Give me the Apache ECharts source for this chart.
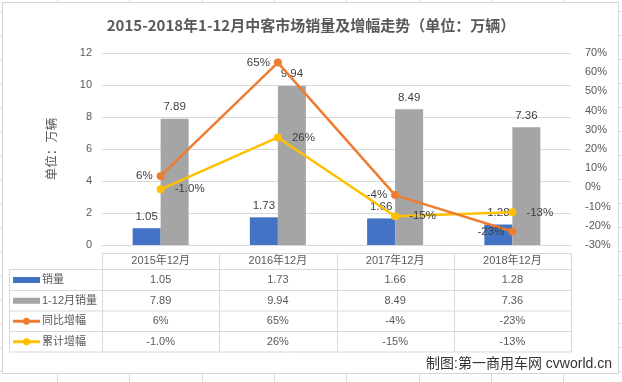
<!DOCTYPE html>
<html><head><meta charset="utf-8">
<script src="https://cdn.jsdelivr.net/npm/echarts@6/dist/echarts.min.js"></script>
<style>
html,body{margin:0;padding:0;background:#fff;overflow:hidden;}
#stage{position:relative;width:622px;height:382px;}
#chart{position:absolute;left:0;top:0;width:622px;height:382px;}
.cl{position:absolute;background:#dcdcdc;}
</style></head>
<body><div id="stage"><div id="chart"></div></div>
<script>
// ---- data ----
const categories = ['2015年12月','2016年12月','2017年12月','2018年12月'];
const salesDec = [1.05, 1.73, 1.66, 1.28];
const salesYTD = [7.89, 9.94, 8.49, 7.36];
const yoyGrowth = [6, 65, -4, -23];
const ytdGrowth = [-1.0, 26, -15, -13];
const yoyLabels = ['6%','65%','-4%','-23%'];
const ytdLabels = ['-1.0%','26%','-15%','-13%'];
const seriesNames = ['销量','1-12月销量','同比增幅','累计增幅'];
const leftTicks = {min:0, max:12, interval:2};
const rightTicks = {min:-30, max:70, interval:10};

// ---- background (spreadsheet cells + chart box) ----
const stage = document.getElementById('stage');
function addDiv(css){const d=document.createElement('div');d.className='cl';Object.assign(d.style,css);stage.insertBefore(d, stage.firstChild);}
for(let k=0;k<9;k++){addDiv({left:(57+72.3*k).toFixed(0)+'px',top:'0px',width:'1px',height:'382px'});}
for(let k=0;k<16;k++){addDiv({left:'0px',top:(11+24*k)+'px',width:'622px',height:'1px'});}
const box=document.createElement('div');
Object.assign(box.style,{position:'absolute',left:'2px',top:'2px',width:'615px',height:'370px',background:'#fff',border:'1px solid #d4d4d4'});
stage.insertBefore(box, document.getElementById('chart'));

const FONT = '"Liberation Sans","Noto Sans CJK SC",sans-serif';
const gridLeft=102, gridRight=51, gridTop=53, gridBottom=137;
const gridW = 622-gridLeft-gridRight;
const colW = gridW/categories.length;
const rowLines=[269.5,290.5,311,331.5,352];
const lineColor='#d9d9d9';
const colors=['#4472C4','#A5A5A5','#ED7D31','#FFC000'];

const g=[];
// table lines
g.push({type:'line',shape:{x1:gridLeft,y1:253.5,x2:gridLeft+gridW,y2:253.5},style:{stroke:lineColor,lineWidth:1}});
rowLines.forEach(y=>g.push({type:'line',shape:{x1:9.5,y1:y,x2:gridLeft+gridW,y2:y},style:{stroke:lineColor,lineWidth:1}}));
g.push({type:'line',shape:{x1:9.5,y1:rowLines[0],x2:9.5,y2:352},style:{stroke:lineColor,lineWidth:1}});
for(let i=0;i<=categories.length;i++){
  const x=Math.round(gridLeft+colW*i)+0.5;
  g.push({type:'line',shape:{x1:x,y1:253.5,x2:x,y2:352},style:{stroke:lineColor,lineWidth:1}});
}
// table values
const rows=[salesDec.map(v=>v.toFixed(2)), salesYTD.map(v=>v.toFixed(2)), yoyLabels, ytdLabels];
rows.forEach((r,ri)=>{
  const yc=(rowLines[ri]+rowLines[ri+1])/2;
  r.forEach((t,ci)=>{
    g.push({type:'text',x:gridLeft+colW*(ci+0.5),y:yc,style:{text:t,fill:'#595959',font:'11px '+FONT,textAlign:'center',textVerticalAlign:'middle'}});
  });
  // legend key
  if(ri<2){
    g.push({type:'rect',shape:{x:13,y:yc-3,width:27,height:6},style:{fill:colors[ri]}});
  } else {
    g.push({type:'line',shape:{x1:13,y1:yc,x2:40,y2:yc},style:{stroke:colors[ri],lineWidth:3}});
    g.push({type:'circle',shape:{cx:26.5,cy:yc,r:3.5},style:{fill:colors[ri]}});
  }
  g.push({type:'text',x:42,y:yc,style:{text:seriesNames[ri],fill:'#595959',font:'11px '+FONT,textAlign:'left',textVerticalAlign:'middle'}});
});
g.push({type:'text',x:612,y:364,style:{text:'制图:第一商用车网 cvworld.cn',fill:'#333333',font:'14px '+FONT,textAlign:'right',textVerticalAlign:'middle'}});

const chart=echarts.init(document.getElementById('chart'),null,{renderer:'canvas'});
const labelStyle={color:'#404040',fontSize:11.5,fontFamily:FONT};
chart.setOption({
  backgroundColor:'transparent',
  animation:false,
  textStyle:{fontFamily:FONT},
  title:{text:'2015-2018年1-12月中客市场销量及增幅走势（单位：万辆）',left:'center',top:13,
    textStyle:{fontSize:15,fontWeight:'bold',color:'#595959',fontFamily:'"Noto Sans CJK SC",sans-serif'}},
  grid:{left:gridLeft,right:gridRight,top:gridTop,bottom:gridBottom,containLabel:false},
  xAxis:{type:'category',data:categories,
    axisLine:{show:true,lineStyle:{color:lineColor}},axisTick:{show:false},
    axisLabel:{color:'#595959',fontSize:11,margin:10,fontFamily:FONT}},
  yAxis:[
    {type:'value',min:leftTicks.min,max:leftTicks.max,interval:leftTicks.interval,
     name:'单位：万辆',nameLocation:'middle',nameRotate:90,nameGap:44,
     nameTextStyle:{color:'#595959',fontSize:12.5,fontFamily:'"Noto Sans CJK SC",sans-serif'},
     axisLine:{show:false},axisTick:{show:false},
     axisLabel:{color:'#595959',fontSize:11,margin:10},
     splitLine:{lineStyle:{color:lineColor}}},
    {type:'value',min:rightTicks.min,max:rightTicks.max,interval:rightTicks.interval,
     axisLine:{show:false},axisTick:{show:false},
     axisLabel:{color:'#595959',fontSize:11,margin:14,formatter:'{value}%'},
     splitLine:{show:false}}
  ],
  series:[
    {name:seriesNames[0],type:'bar',data:salesDec,barWidth:28,barGap:'0%',itemStyle:{color:colors[0]},
     label:{show:true,position:'top',distance:6,formatter:p=>p.value.toFixed(2),...labelStyle}},
    {name:seriesNames[1],type:'bar',data:salesYTD,barWidth:28,barGap:'0%',itemStyle:{color:colors[1]},
     label:{show:true,position:'top',distance:6,formatter:p=>p.value.toFixed(2),...labelStyle}},
    {name:seriesNames[2],type:'line',yAxisIndex:1,data:yoyGrowth,symbol:'circle',symbolSize:8,
     lineStyle:{color:colors[2],width:2.5},itemStyle:{color:colors[2]},z:4,
     label:{show:true,position:'left',distance:4,formatter:p=>yoyLabels[p.dataIndex],...labelStyle}},
    {name:seriesNames[3],type:'line',yAxisIndex:1,data:ytdGrowth,symbol:'circle',symbolSize:8,
     lineStyle:{color:colors[3],width:2.5},itemStyle:{color:colors[3]},z:3,
     label:{show:true,position:'right',distance:10,formatter:p=>ytdLabels[p.dataIndex],...labelStyle}}
  ],
  graphic:{elements:g}
});
</script></body></html>
